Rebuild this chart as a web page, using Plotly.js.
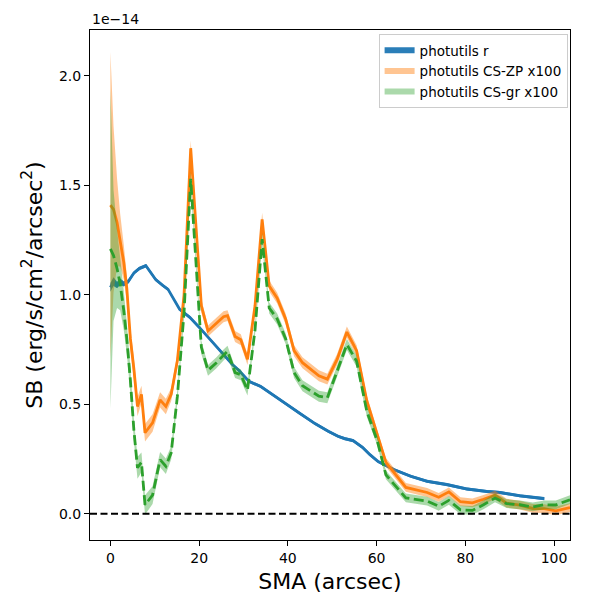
<!DOCTYPE html>
<html>
<head>
<meta charset="utf-8">
<script src="https://cdn.plot.ly/plotly-3.0.1.min.js"></script>
<style>
  html, body { margin: 0; padding: 0; background: #fff; }
  #sb-profile { width: 600px; height: 600px; }
</style>
</head>
<body>
<div id="sb-profile"></div>
<script>
// surface brightness profiles, in units of 1e-14 erg/s/cm2/arcsec2

// photutils r
const rSma = [0, 0.7, 1.5, 2.2, 3.0, 4.0, 5.3, 6.5, 8.0, 10.2, 11.8, 13.0, 15.6, 17.9,
    20.1, 23.8, 27.5, 29.0, 31.2, 33.9, 36.5, 38.7, 42.4, 46.1, 49.1, 51.3, 52.8, 54.7,
    56.9, 58.5, 60.3, 64.0, 67.7, 71.4, 75.9, 80.4, 84.8, 87.8, 92.3, 97.8];
const rSb = [1.034, 1.06, 1.045, 1.06, 1.05, 1.06, 1.10, 1.12, 1.133, 1.07, 1.043, 1.025, 0.934, 0.897,
    0.85, 0.766, 0.682, 0.654, 0.605, 0.581, 0.545, 0.514, 0.462, 0.412, 0.377, 0.354, 0.343, 0.334,
    0.302, 0.27, 0.239, 0.201, 0.171, 0.148, 0.133, 0.113, 0.102, 0.097, 0.082, 0.069];
const rErr = [0.02, 0.02, 0.015, 0.015, 0.012, 0.01, 0.008, 0.008, 0.008, 0.008, 0.007, 0.007, 0.007, 0.007,
    0.007, 0.007, 0.007, 0.007, 0.007, 0.007, 0.007, 0.007, 0.007, 0.007, 0.007, 0.007, 0.007, 0.007,
    0.007, 0.007, 0.007, 0.007, 0.007, 0.007, 0.007, 0.007, 0.007, 0.007, 0.007, 0.007];

// CS profiles (x100), same isophote radii
const csSma = [0, 0.7, 1.5, 2.2, 3.0, 3.7, 4.5, 5.3, 6.1, 7.0, 7.8, 9.5, 11.2, 12.5, 13.7, 15.1,
    16.6, 18.1, 20.5, 22.0, 23.9, 25.5, 26.4, 28.1, 29.4, 30.9, 32.6, 34.2, 35.8, 37.6, 39.5,
    41.4, 43.3, 47.0, 48.9, 51.1, 53.3, 55.5, 57.8, 60.2, 62.1, 66.6, 71.4, 74.0, 76.3, 78.9,
    81.6, 84.1, 86.7, 89.3, 92.3, 95.2, 97.8, 100.4, 103.6];

const zpSb = [1.41, 1.39, 1.33, 1.25, 1.15, 1.03, 0.80, 0.66, 0.49, 0.545, 0.37, 0.415, 0.52, 0.49, 0.545, 0.70,
    1.0, 1.67, 0.95, 0.835, 0.87, 0.90, 0.905, 0.81, 0.795, 0.705, 0.95, 1.345, 1.04, 0.985, 0.89,
    0.745, 0.69, 0.63, 0.615, 0.705, 0.83, 0.745, 0.515, 0.36, 0.235, 0.12, 0.097, 0.075, 0.10, 0.055,
    0.05, 0.066, 0.085, 0.048, 0.039, 0.024, 0.023, 0.013, 0.028];
const zpErr = [0.70, 0.38, 0.20, 0.12, 0.08, 0.06, 0.05, 0.05, 0.045, 0.04, 0.04, 0.04, 0.035, 0.035, 0.03, 0.03,
    0.03, 0.035, 0.03, 0.025, 0.025, 0.025, 0.025, 0.025, 0.025, 0.025, 0.025, 0.03, 0.025, 0.025, 0.025,
    0.025, 0.025, 0.025, 0.025, 0.025, 0.025, 0.025, 0.025, 0.02, 0.02, 0.02, 0.02, 0.02, 0.02, 0.02,
    0.02, 0.02, 0.02, 0.02, 0.02, 0.02, 0.02, 0.02, 0.02];

const grSb = [1.21, 1.18, 1.12, 1.05, 0.93, 0.80, 0.61, 0.38, 0.21, 0.235, 0.04, 0.085, 0.247, 0.217, 0.278, 0.537,
    0.92, 1.53, 0.76, 0.655, 0.69, 0.725, 0.743, 0.645, 0.635, 0.565, 0.84, 1.255, 0.94, 0.89, 0.80,
    0.645, 0.585, 0.537, 0.53, 0.651, 0.773, 0.697, 0.468, 0.33, 0.178, 0.072, 0.058, 0.034, 0.061, 0.018,
    0.015, 0.041, 0.072, 0.046, 0.041, 0.031, 0.041, 0.04, 0.064];
const grErr = [0.73, 0.30, 0.18, 0.12, 0.09, 0.07, 0.06, 0.05, 0.05, 0.045, 0.045, 0.04, 0.035, 0.035, 0.03, 0.03,
    0.03, 0.035, 0.03, 0.025, 0.025, 0.025, 0.025, 0.025, 0.025, 0.025, 0.025, 0.03, 0.025, 0.025, 0.025,
    0.025, 0.025, 0.025, 0.025, 0.025, 0.025, 0.025, 0.025, 0.02, 0.02, 0.02, 0.02, 0.02, 0.02, 0.02,
    0.02, 0.02, 0.02, 0.02, 0.02, 0.02, 0.02, 0.02, 0.02];

const zeroLevel = 0;

const fontFamily = "DejaVu Sans, sans-serif";

// closed polygon for a +/- err band
function band(x, y, err, name, fillcolor) {
    const upper = y.map((v, i) => v + err[i]);
    const lower = y.map((v, i) => v - err[i]);
    return {
        x: x.concat(x.slice().reverse()),
        y: upper.concat(lower.slice().reverse()),
        fill: "toself",
        fillcolor: fillcolor,
        mode: "none",
        line: { width: 0 },
        name: name,
        hoverinfo: "skip"
    };
}

function line(x, y, color, dash) {
    return {
        x: x,
        y: y,
        mode: "lines",
        line: { color: color, width: 2.8, dash: dash },
        showlegend: false
    };
}

const traces = [
    band(rSma, rSb, rErr, "photutils r", "rgba(31,119,180,0.95)"),
    line(rSma, rSb, "#1f77b4", "solid"),
    band(csSma, zpSb, zpErr, "photutils CS-ZP x100", "rgba(255,127,14,0.45)"),
    line(csSma, zpSb, "#ff7f0e", "solid"),
    band(csSma, grSb, grErr, "photutils CS-gr x100", "rgba(44,160,44,0.4)"),
    line(csSma, grSb, "#2ca02c", "10px,4.5px")
];

const layout = {
    width: 600,
    height: 600,
    margin: { l: 90, r: 30, t: 30, b: 60 },
    paper_bgcolor: "#fff",
    plot_bgcolor: "#fff",
    font: { family: fontFamily, size: 14, color: "#000" },
    showlegend: true,
    legend: {
        x: 0.995,
        y: 0.992,
        xanchor: "right",
        yanchor: "top",
        bgcolor: "rgba(255,255,255,0.8)",
        bordercolor: "#cccccc",
        borderwidth: 1,
        font: { family: fontFamily, size: 13.5 },
        tracegroupgap: 0
    },
    xaxis: {
        range: [-4.6, 103.6],
        dtick: 20,
        tick0: 0,
        showgrid: false,
        zeroline: false,
        showline: true,
        mirror: true,
        linecolor: "#000",
        linewidth: 1,
        ticks: "outside",
        ticklen: 5,
        tickcolor: "#000",
        tickfont: { size: 14 },
        title: { text: "SMA (arcsec)", font: { size: 22 }, standoff: 8 }
    },
    yaxis: {
        range: [-0.12, 2.21],
        dtick: 0.5,
        tick0: 0,
        tickformat: ".1f",
        showgrid: false,
        zeroline: false,
        showline: true,
        mirror: true,
        linecolor: "#000",
        linewidth: 1,
        ticks: "outside",
        ticklen: 5,
        tickcolor: "#000",
        tickfont: { size: 14 },
        title: { text: "SB (erg/s/cm<sup>2</sup>/arcsec<sup>2</sup>)", font: { size: 22 }, standoff: 10 }
    },
    shapes: [{
        type: "line",
        xref: "paper",
        x0: 0,
        x1: 1,
        yref: "y",
        y0: zeroLevel,
        y1: zeroLevel,
        line: { color: "#000", width: 2, dash: "7px,3.5px" },
        layer: "above"
    }],
    annotations: [{
        text: "1e\u221214",
        xref: "paper",
        yref: "paper",
        x: 0,
        y: 1,
        xanchor: "left",
        yanchor: "bottom",
        yshift: 1,
        showarrow: false,
        font: { size: 14 }
    }]
};

Plotly.newPlot("sb-profile", traces, layout, { displayModeBar: false, staticPlot: true });
</script>
</body>
</html>
